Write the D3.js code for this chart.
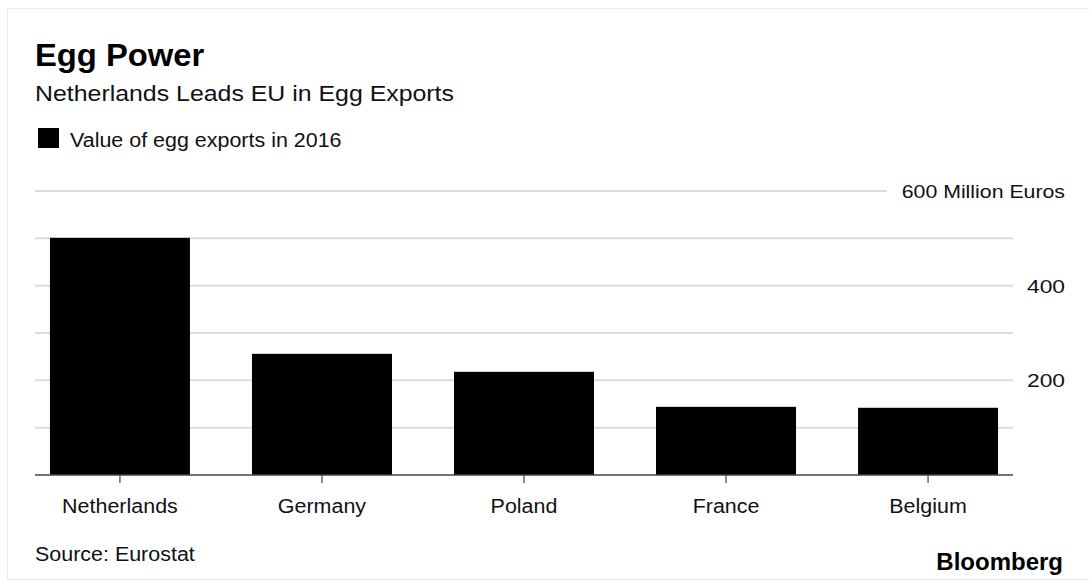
<!DOCTYPE html>
<html>
<head>
<meta charset="utf-8">
<script src="https://cdn.jsdelivr.net/npm/d3@7"></script>
<style>
  html, body { margin: 0; padding: 0; background: #fff; }
  svg { display: block; font-family: "Liberation Sans", Arial, sans-serif; }
</style>
</head>
<body>
<svg id="chart" width="1089" height="582"></svg>
<script>
const categories = ["Netherlands", "Germany", "Poland", "France", "Belgium"];
const values = [501, 256, 218, 144, 142];
const gridValues = [100, 200, 300, 400, 500, 600];
const tickLabels = { 200: "200", 400: "400", 600: "600 Million Euros" };
const title = "Egg Power";
const subtitle = "Netherlands Leads EU in Egg Exports";
const legendLabel = "Value of egg exports in 2016";
const source = "Source: Eurostat";

const svg = d3.select("#chart");

// widen Liberation Sans glyphs a little to match the reference face
function widen(sel, factor) {
  sel.each(function () {
    const len = this.getComputedTextLength();
    d3.select(this).attr("textLength", len * factor).attr("lengthAdjust", "spacingAndGlyphs");
  });
  return sel;
}

// card border
svg.append("rect")
  .attr("x", 7.5).attr("y", 8.5).attr("width", 1100).attr("height", 571)
  .attr("fill", "#fff").attr("stroke", "#ececec").attr("stroke-width", 1);

const x = d3.scaleBand().domain(categories).range([35, 1013])
  .paddingInner(0.307).paddingOuter(0.074);
const y = d3.scaleLinear().domain([0, 600]).range([475, 191]);

// gridlines
svg.append("g").selectAll("line").data(gridValues).join("line")
  .attr("x1", 35)
  .attr("x2", d => d === 600 ? 887 : 1013)
  .attr("y1", d => y(d)).attr("y2", d => y(d))
  .attr("stroke", "#dcdcdc").attr("stroke-width", 2);

// right axis labels
const yl = svg.append("g").selectAll("text").data(gridValues.filter(d => tickLabels[d])).join("text")
  .attr("x", 1065).attr("y", d => y(d) + 7)
  .attr("text-anchor", "end")
  .attr("font-size", 19).attr("fill", "#111")
  .text(d => tickLabels[d]);
yl.each(function (d) { widen(d3.select(this), d === 600 ? 1.12 : 1.2); });

// bars
svg.append("g").selectAll("rect").data(categories).join("rect")
  .attr("x", d => x(d)).attr("width", x.bandwidth())
  .attr("y", (d, i) => y(values[i]))
  .attr("height", (d, i) => y(0) - y(values[i]))
  .attr("fill", "#000");

// x axis
const xAxis = d3.axisBottom(x).tickSize(8).tickSizeOuter(0).tickPadding(16);
const gx = svg.append("g").attr("transform", `translate(0,${y(0)})`).call(xAxis);
gx.select(".domain").remove();
gx.selectAll(".tick line").attr("stroke", "#444").attr("stroke-width", 1.2);
gx.selectAll(".tick text").attr("font-size", 19.5).attr("fill", "#111")
  .attr("font-family", "Liberation Sans, Arial, sans-serif");
widen(gx.selectAll(".tick text"), 1.1);
svg.append("line").attr("x1", 35).attr("x2", 1013)
  .attr("y1", y(0)).attr("y2", y(0))
  .attr("stroke", "#444").attr("stroke-width", 1.5);

// titles
widen(svg.append("text").attr("x", 35).attr("y", 66)
  .attr("font-size", 32).attr("font-weight", "bold").attr("fill", "#000")
  .text(title), 1.024);
widen(svg.append("text").attr("x", 35).attr("y", 100.5)
  .attr("font-size", 21.5).attr("fill", "#111")
  .text(subtitle), 1.157);

// legend
svg.append("rect").attr("x", 38).attr("y", 128).attr("width", 21).attr("height", 20).attr("fill", "#000");
widen(svg.append("text").attr("x", 70).attr("y", 146.5)
  .attr("font-size", 19.5).attr("fill", "#111")
  .text(legendLabel), 1.1);

// footer
widen(svg.append("text").attr("x", 35).attr("y", 561)
  .attr("font-size", 19.5).attr("fill", "#111")
  .text(source), 1.1);
svg.append("text").attr("x", 1063).attr("y", 570)
  .attr("text-anchor", "end")
  .attr("font-size", 24).attr("font-weight", "bold").attr("fill", "#000")
  .text("Bloomberg");
</script>
</body>
</html>
